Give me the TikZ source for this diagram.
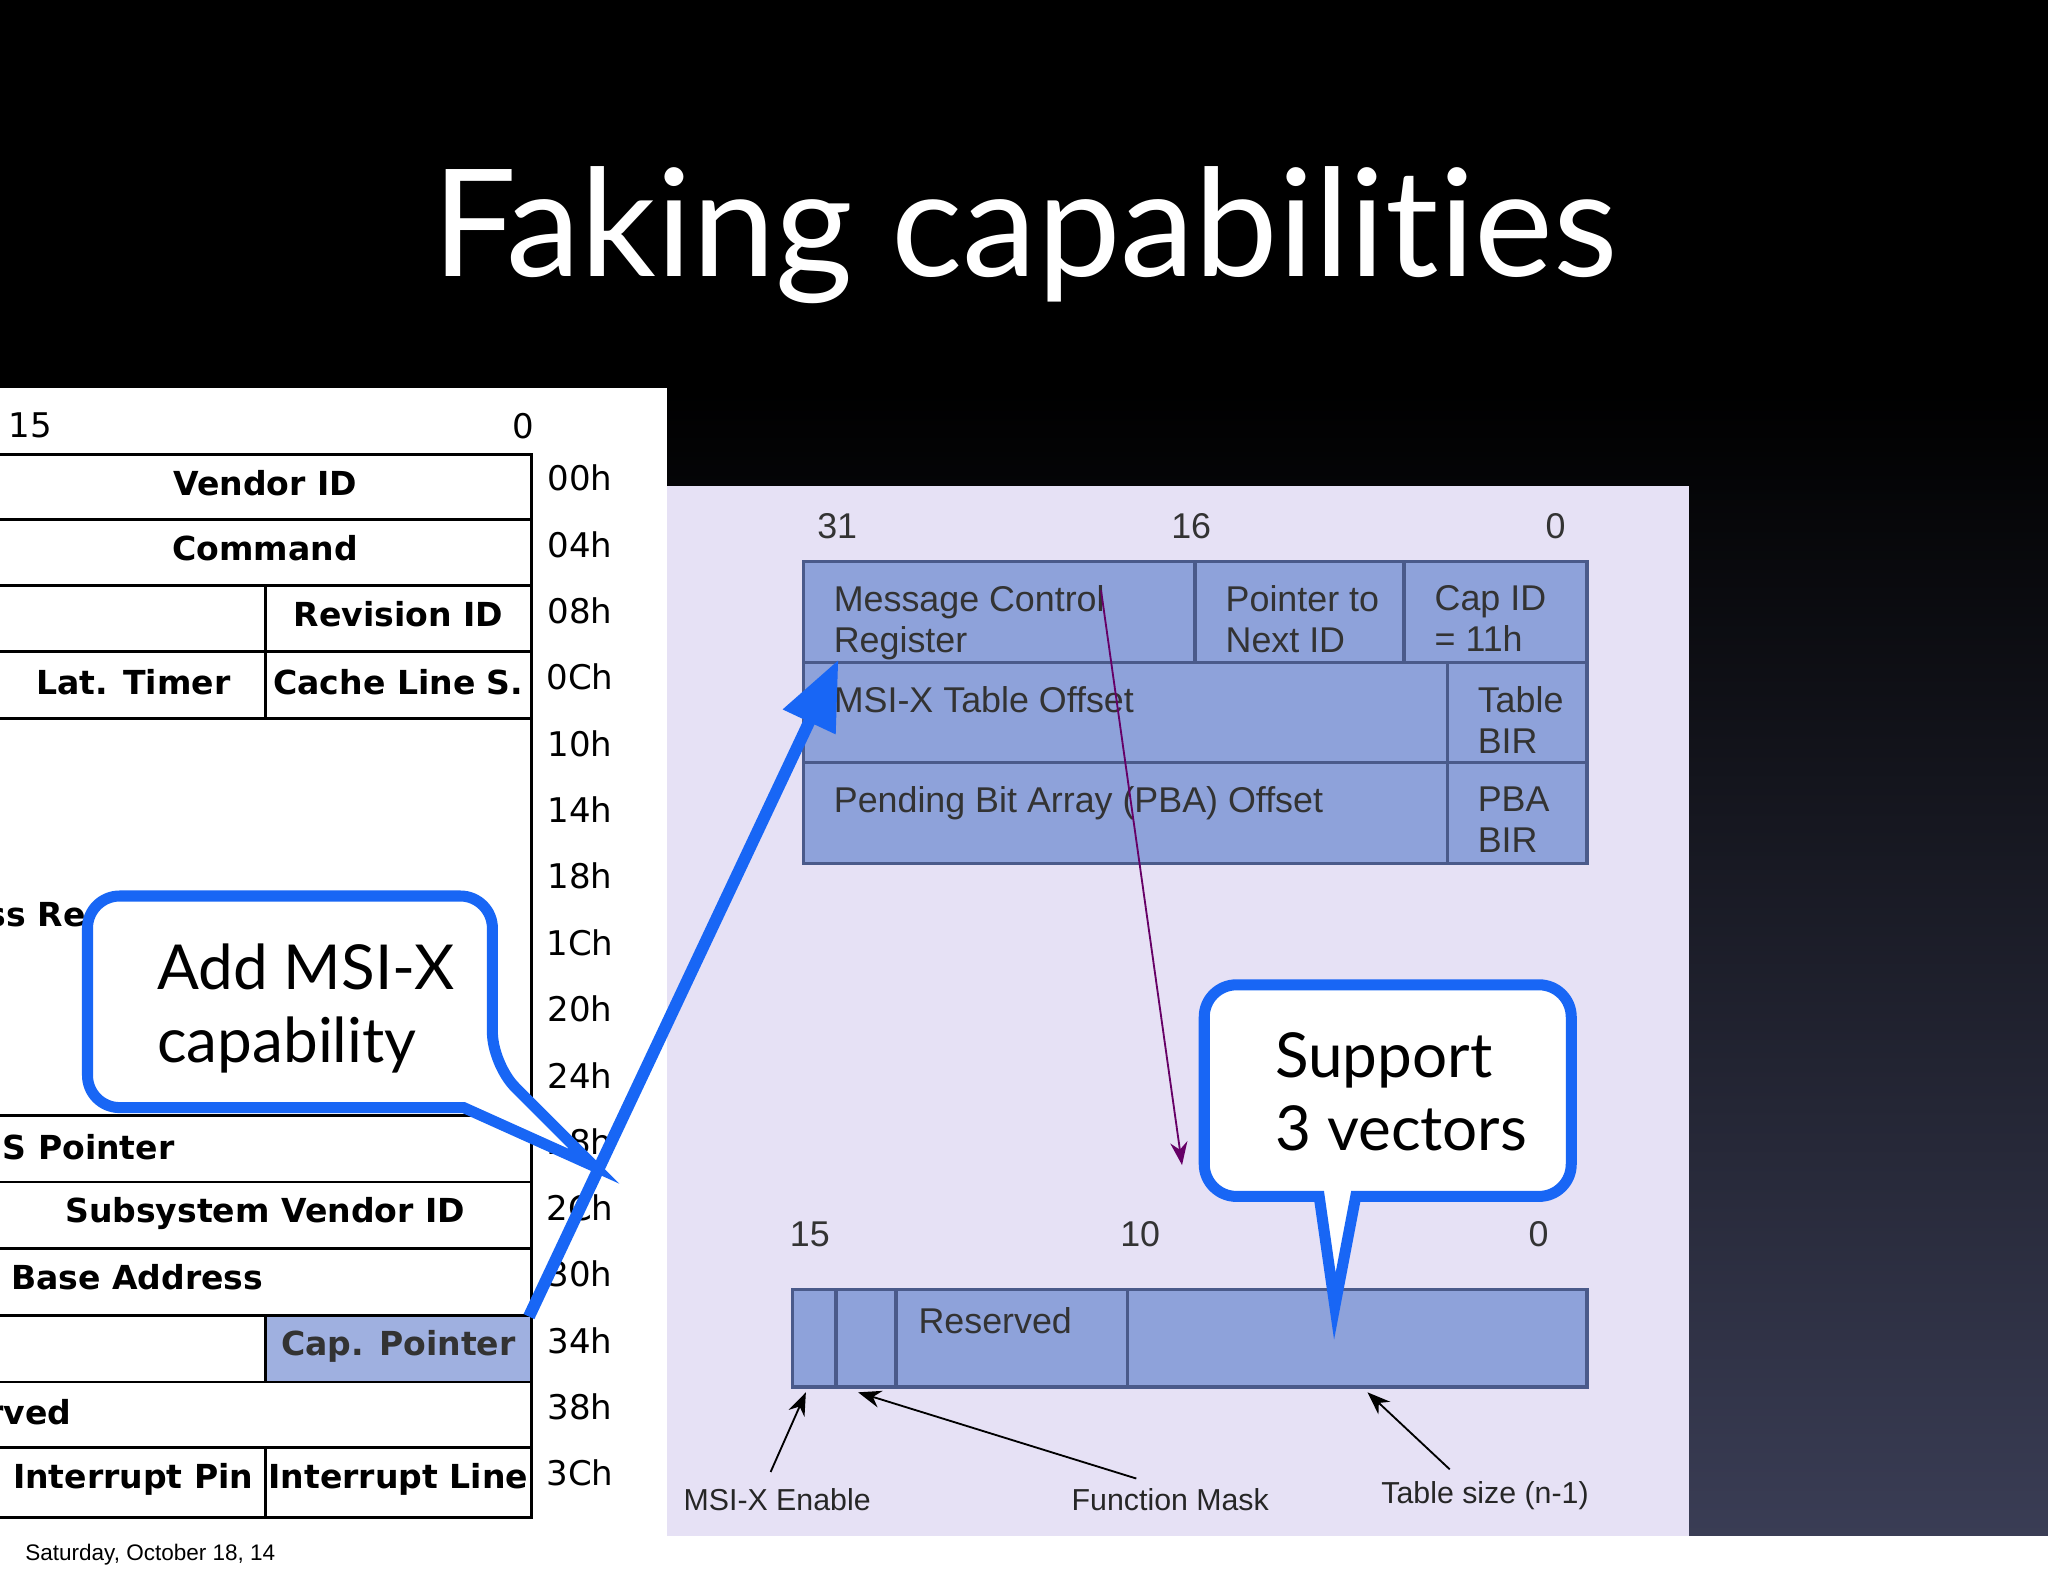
\documentclass[tikz,border=0pt]{standalone}
\usepackage{fontspec}
\setmainfont[Ligatures={NoCommon,NoRare}]{Lato}
\newfontfamily\tabfont{DejaVu Sans}
\newfontfamily\regfont{Liberation Sans}
\usetikzlibrary{arrows.meta}
\definecolor{regfill}{HTML}{8EA2DA}
\definecolor{regline}{HTML}{4A5A8A}
\definecolor{lav}{HTML}{E6E1F5}
\definecolor{callblue}{HTML}{1866F5}
\definecolor{bgbot}{HTML}{3A3D55}
\tikzset{
 tcell/.style={draw=black,line width=0.6pt,fill=white},
 ttext/.style={font=\tabfont\bfseries\fontsize{7.2}{9}\selectfont},
 otext/.style={font=\tabfont\fontsize{7.4}{9}\selectfont},
 rcell/.style={draw=regline,line width=0.7pt,fill=regfill},
 rtext/.style={font=\regfont\fontsize{7.8}{8.9}\selectfont,text=black!80,align=left},
 btext/.style={font=\regfont\fontsize{6.6}{8}\selectfont,text=black!85},
 ctext/.style={font=\fontsize{13.5}{16}\selectfont,align=left},
 callout/.style={draw=callblue,line width=2.4pt,fill=white,rounded corners=7pt},
 thin/.style={-{Stealth[length=5pt]},line width=0.4pt}
}
\begin{document}
\begin{tikzpicture}[x=0.01cm,y=-0.01cm]
\useasboundingbox (0,0) rectangle (1568,1206);
\fill[black] (0,0) rectangle (1568,300);
\shade[top color=black,bottom color=bgbot] (0,299) rectangle (1568,1177);
\fill[white] (0,1176) rectangle (1568,1206);
\node[anchor=west,font=\regfont\fontsize{4.9}{6}\selectfont] (date) at (7,1190) {Saturday, October 18, 14};
\node[text=white,font=\fontsize{32.5}{38}\selectfont] (title) at (785,180) {Faking capabilities};
% left panel
\fill[white] (0,297) rectangle (511,1176);
\begin{scope}
\clip (0,297) rectangle (511,1176);
\node[otext,anchor=west] (b15) at (-6,326) {15};
\node[otext] (b0) at (401,326) {0};
\draw[tcell] (-5,348) rectangle (407,398);
\node[ttext] (vid) at (203,370) {Vendor ID};
\draw[tcell] (-5,398) rectangle (407,448);
\node[ttext] (cmd) at (203,420) {Command};
\draw[tcell] (-5,448) rectangle (203,499); \draw[tcell] (203,448) rectangle (407,499);
\node[ttext] (rev) at (305,470) {Revision ID};
\draw[tcell] (-5,499) rectangle (203,550); \draw[tcell] (203,499) rectangle (407,550);
\node[ttext] (lat) at (102,522) {Lat. Timer};
\node[ttext] (cls) at (305,522) {Cache Line S.};
\draw[tcell] (-5,550) rectangle (407,854);
\node[ttext,anchor=east] (bar) at (78,700) {Base Address Re};
\draw[tcell] (-5,854) rectangle (407,905);
\node[ttext,anchor=east] (cis) at (146,878) {CardBus CIS Pointer};
\draw[tcell] (-5,905) rectangle (407,956);
\node[ttext] (svid) at (203,929) {Subsystem Vendor ID};
\draw[tcell] (-5,956) rectangle (407,1007);
\node[ttext,anchor=east] (rom) at (214,980) {Expansion ROM Base Address};
\draw[tcell] (-5,1007) rectangle (203,1058);
\draw[tcell,fill=regfill!85!white] (203,1007) rectangle (407,1058);
\node[ttext,text=black!80] (capp) at (305,1031) {Cap. Pointer};
\draw[tcell] (-5,1058) rectangle (407,1108);
\node[ttext,anchor=east] (rsv) at (67,1081) {Reserved};
\draw[tcell] (-5,1108) rectangle (203,1162); \draw[tcell] (203,1108) rectangle (407,1162);
\node[ttext] (ipin) at (102,1133) {Interrupt Pin};
\node[ttext] (iline) at (305,1133) {Interrupt Line};
\foreach \t [count=\i from 0] in {00h,04h,08h,0Ch,10h,14h,18h,1Ch,20h,24h,28h,2Ch,30h,34h,38h,3Ch}
  \node[otext] (off\i) at (444,366+50.8*\i) {\t};
\end{scope}
% right panel
\fill[lav] (511,372) rectangle (1293,1176);
\node[rtext] (t31) at (641,403) {31};
\node[rtext] (t16) at (912,403) {16};
\node[rtext] (t0) at (1191,403) {0};
\draw[rcell] (615,430) rectangle (915,507);
\draw[rcell] (915,430) rectangle (1075,507);
\draw[rcell] (1075,430) rectangle (1215,507);
\draw[rcell] (615,507) rectangle (1108,584);
\draw[rcell] (1108,507) rectangle (1215,584);
\draw[rcell] (615,584) rectangle (1108,661);
\draw[rcell] (1108,584) rectangle (1215,661);
\node[rtext,anchor=north west] (mcr) at (626,436) {Message Control\\Register};
\node[rtext,anchor=north west] (pnid) at (926,436) {Pointer to\\Next ID};
\node[rtext,anchor=north west] (cid) at (1086,436) {Cap ID\\= 11h};
\node[rtext,anchor=north west] (mto) at (626,513) {MSI-X Table Offset};
\node[rtext,anchor=north west] (tbir) at (1119,513) {Table\\BIR};
\node[rtext,anchor=north west] (pba) at (626,590) {Pending Bit Array (PBA) Offset};
\node[rtext,anchor=north west] (pbir) at (1119,590) {PBA\\BIR};
\node[rtext] (b15r) at (620,945) {15};
\node[rtext] (b10r) at (873,945) {10};
\node[rtext] (b0r) at (1178,945) {0};
\draw[rcell] (607,987) rectangle (640,1062);
\draw[rcell] (640,987) rectangle (686,1062);
\draw[rcell] (686,987) rectangle (863,1062);
\draw[rcell] (863,987) rectangle (1215,1062);
\node[rtext] (resv) at (762,1011) {Reserved};
\coordinate (enT) at (617,1066); \coordinate (fmT) at (657,1066); \coordinate (tsT) at (1047,1066);
\node[btext] (en) at (595,1148) {MSI-X Enable};
\node[btext] (fm) at (896,1148) {Function Mask};
\node[btext] (ts) at (1137,1145) {Table size (n-1)};
\draw[thin] (590,1127) -- (enT);
\draw[thin] (870,1132) -- (fmT);
\draw[thin] (1110,1125) -- (tsT);
\coordinate (pS) at (843,452); \coordinate (pE) at (905,892);
\draw[thin,draw=violet!80!black,-{Stealth[length=5pt]}] (pS) -- (pE);
% big blue arrow
\coordinate (aS) at (405,1008); \coordinate (aE) at (642,505);
\draw[callblue,line width=2.6pt,-{Triangle[length=15pt,width=12pt]}] (aS) -- (aE);
% callouts
\draw[callout] (67,686) -- (377,686) -- (377,815) [sharp corners] -- (455,893) -- (355,848) [rounded corners=7pt] -- (67,848) -- cycle;
\node[ctext,anchor=north west] (c1) at (108,710) {Add MSI-X\\capability};
\draw[callout] (922,754) -- (1203,754) -- (1203,916) [sharp corners] -- (1038,916) -- (1022,1000) -- (1010,916) [rounded corners=7pt] -- (922,916) -- cycle;
\node[ctext,anchor=north west] (c2) at (964,778) {Support\\3 vectors};
\end{tikzpicture}
\end{document}
